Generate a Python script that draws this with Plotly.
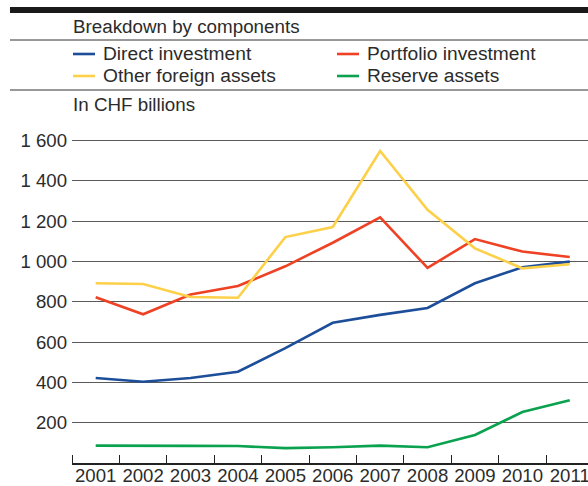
import plotly.graph_objects as go

years = [2001, 2002, 2003, 2004, 2005, 2006, 2007, 2008, 2009, 2010, 2011]

direct_investment = [422, 403, 422, 453, 570, 696, 735, 769, 892, 971, 999]
portfolio_investment = [822, 738, 836, 878, 976, 1093, 1219, 968, 1111, 1049, 1022]
other_foreign_assets = [892, 888, 824, 820, 1121, 1171, 1548, 1256, 1065, 966, 986]
reserve_assets = [86, 84, 85, 84, 74, 78, 86, 78, 139, 253, 311]

series_names = ["Direct investment", "Portfolio investment",
                "Other foreign assets", "Reserve assets"]
series_values = [direct_investment, portfolio_investment,
                 other_foreign_assets, reserve_assets]
series_colors = ["#1d4e9a", "#ef4123", "#fdd049", "#0ba24f"]

y_ticks = [200, 400, 600, 800, 1000, 1200, 1400, 1600]
y_tick_labels = ["200", "400", "600", "800", "1 000", "1 200", "1 400", "1 600"]

subtitle = "Breakdown by components"
unit_label = "In CHF billions"

W, H = 588, 486
L, R, T, B = 72, 0, 122, 23
FONT = "Liberation Sans"
TEXT = "#2b2b2b"


def px_x(px):
    return (px - L) / (W - L - R)


def px_y(py):
    return (H - B - py) / (H - T - B)


fig = go.Figure()
for name, vals, col in zip(series_names, series_values, series_colors):
    fig.add_trace(go.Scatter(x=years, y=vals, name=name, mode="lines",
                             line=dict(color=col, width=2.6),
                             showlegend=False))

shapes = [
    # heavy rule at the top
    dict(type="rect", xref="paper", yref="paper",
         x0=px_x(10), x1=px_x(W), y0=px_y(13), y1=px_y(7),
         fillcolor="#1a1a1a", line=dict(width=0)),
    dict(type="line", xref="paper", yref="paper",
         x0=px_x(10), x1=px_x(W), y0=px_y(40), y1=px_y(40),
         line=dict(color="#333333", width=1)),
    dict(type="line", xref="paper", yref="paper",
         x0=px_x(10), x1=px_x(W), y0=px_y(90), y1=px_y(90),
         line=dict(color="#333333", width=1)),
]

annotations = [
    dict(text=subtitle, xref="paper", yref="paper", x=px_x(71), y=px_y(26),
         xanchor="left", yanchor="middle", showarrow=False,
         font=dict(family=FONT, size=18.8, color=TEXT)),
    dict(text=unit_label, xref="paper", yref="paper", x=px_x(71), y=px_y(104),
         xanchor="left", yanchor="middle", showarrow=False,
         font=dict(family=FONT, size=18.8, color=TEXT)),
]

# two-column key above the plot
key_pos = [(73, 54), (337, 54), (73, 76), (337, 76)]
for (kx, ky), name, col in zip(key_pos, series_names, series_colors):
    shapes.append(dict(type="line", xref="paper", yref="paper",
                       x0=px_x(kx), x1=px_x(kx + 22), y0=px_y(ky), y1=px_y(ky),
                       line=dict(color=col, width=2.6)))
    annotations.append(dict(text=name, xref="paper", yref="paper",
                            x=px_x(kx + 28), y=px_y(ky), xanchor="left",
                            yanchor="middle", showarrow=False,
                            font=dict(family=FONT, size=19.2, color=TEXT)))

fig.update_layout(
    width=W, height=H,
    margin=dict(l=L, r=R, t=T, b=B, pad=0),
    paper_bgcolor="white", plot_bgcolor="white",
    font=dict(family=FONT, size=18, color=TEXT),
    shapes=shapes, annotations=annotations,
    xaxis=dict(range=[2000.5, 2011.385], tickmode="array", tickvals=years,
               ticktext=[str(y) for y in years], ticks="", showgrid=False,
               zeroline=False, showline=True, linecolor="#222222",
               linewidth=1.5, ticklabeloverflow="allow", ticklabelstandoff=-5,
               automargin=False,
               tickfont=dict(family=FONT, size=18.6, color=TEXT),
               minor=dict(tick0=2000.5, dtick=1, ticks="inside", ticklen=8,
                          tickcolor="#222222", tickwidth=1.2, showgrid=False)),
    yaxis=dict(range=[0, 1692], tickmode="array", tickvals=y_ticks,
               ticktext=y_tick_labels, ticks="", showgrid=True,
               gridcolor="#5a5a5a", gridwidth=1, zeroline=False,
               showline=False, ticklabelstandoff=4, automargin=False,
               tickfont=dict(family=FONT, size=18.6, color=TEXT)),
)

fig.write_html("out.html")
